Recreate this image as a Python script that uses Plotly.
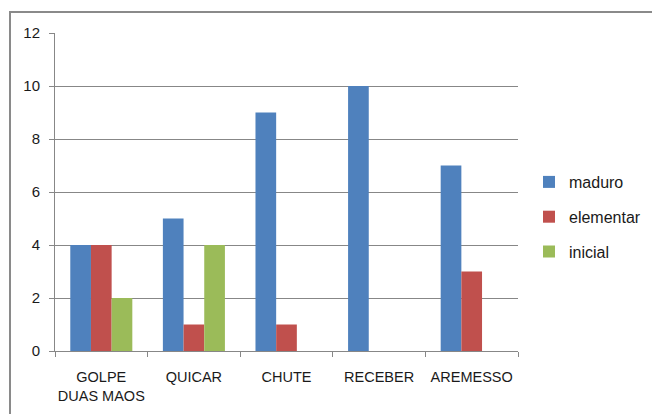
import plotly.graph_objects as go

categories = ["GOLPE<br>DUAS MAOS", "QUICAR", "CHUTE", "RECEBER", "AREMESSO"]
maduro = [4, 5, 9, 10, 7]
elementar = [4, 1, 1, 0, 3]
inicial = [2, 4, 0, 0, 0]
y_ticks = [0, 2, 4, 6, 8, 10, 12]

series = [
    ("maduro", maduro, "#4F81BD"),
    ("elementar", elementar, "#C0504D"),
    ("inicial", inicial, "#9BBB59"),
]

fig = go.Figure()
for name, vals, color in series:
    fig.add_trace(go.Bar(name=name, x=categories, y=vals, marker_color=color,
                         marker_line_width=0, legendgroup=name))

W, H = 652, 414
L, R, T, B = 55, 134, 33, 63
pw, ph = W - L - R, H - T - B

fig.update_layout(
    width=W, height=H,
    margin=dict(l=L, r=R, t=T, b=B, autoexpand=False),
    paper_bgcolor="white", plot_bgcolor="white",
    barmode="group", bargap=0.33, bargroupgap=0,
    font=dict(family="Liberation Sans, Arial", size=14, color="#1a1a1a"),
    showlegend=True,
    legend=dict(x=(529 - L) / pw, y=1 - (217 - T) / ph, xanchor="left",
                yanchor="middle", font=dict(size=16), itemwidth=30,
                tracegroupgap=11, bgcolor="rgba(0,0,0,0)"),
    xaxis=dict(showline=True, linecolor="#878787", linewidth=1,
               ticks="outside", ticklen=5, tickcolor="#878787",
               tickson="boundaries", showgrid=False, tickangle=0,
               automargin=False, ticklabelstandoff=13,
               tickfont=dict(size=14.5)),
    yaxis=dict(range=[0, 12], tickvals=y_ticks, showline=True,
               linecolor="#878787", linewidth=1, ticks="outside", ticklen=5,
               tickcolor="#878787", showgrid=True, gridcolor="#878787",
               gridwidth=1, zeroline=False, automargin=False,
               ticklabelstandoff=6, tickfont=dict(size=15)),
    shapes=[dict(type="rect", xref="paper", yref="paper",
                 x0=(10 - L) / pw, y0=-1, x1=2, y1=1 + (T - 12) / ph,
                 line=dict(color="#8a8a8a", width=2), layer="below")],
)

fig.write_html("out.html")
